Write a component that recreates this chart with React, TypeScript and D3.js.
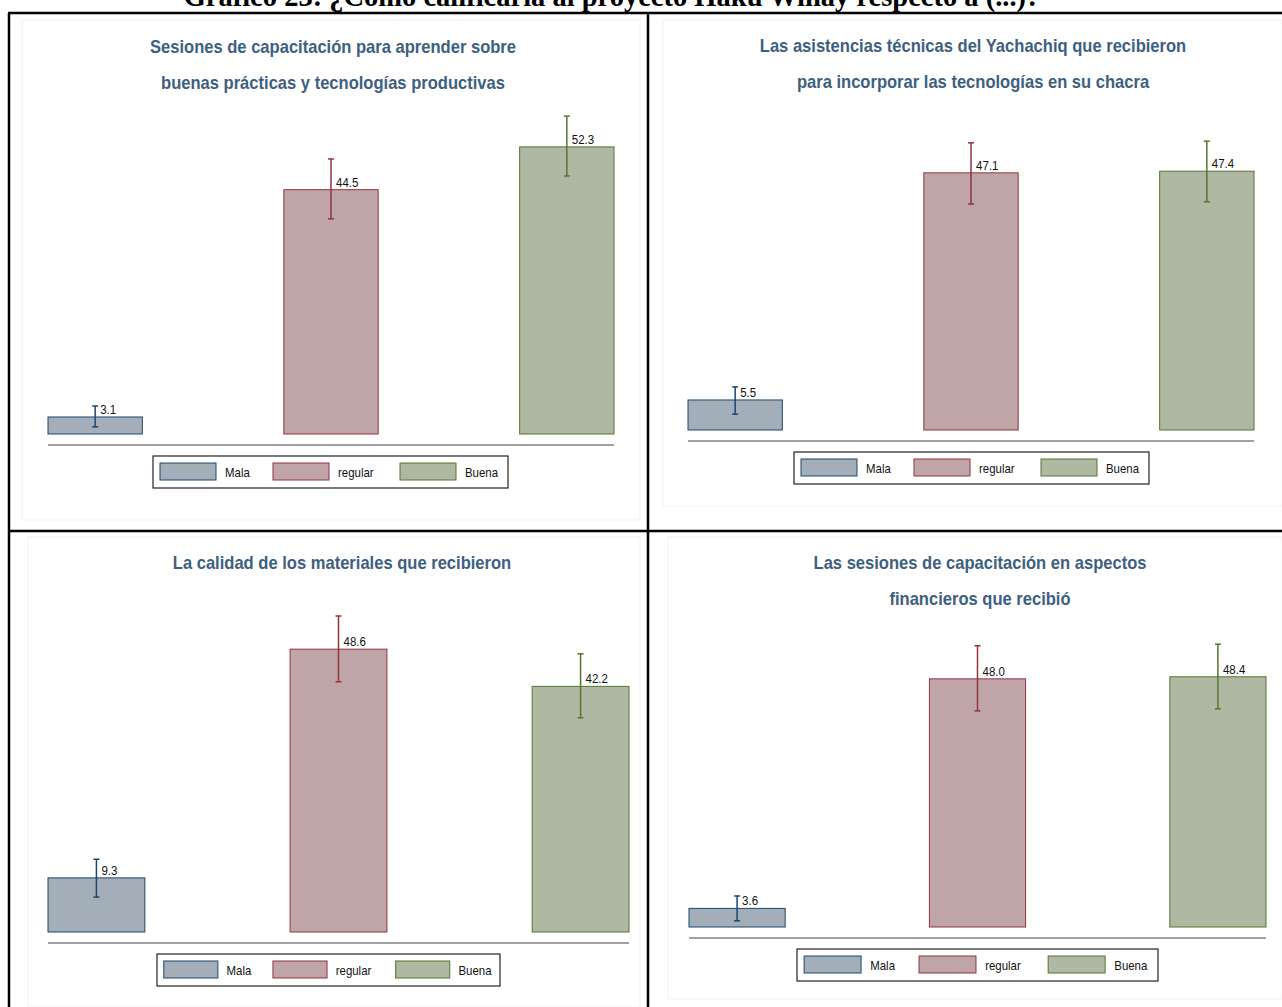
import React, { useEffect, useRef } from "react";
import * as d3 from "d3";

const mainTitle = "Gráfico 23: ¿Cómo calificaría al proyecto Haku Wiñay respecto a (...)?";
const categories = ["Mala", "regular", "Buena"];
const fillColors = ["#a3aeb9", "#c0a5a8", "#afb8a3"];
const strokeColors = ["#1a476f", "#90353b", "#55752f"];

const titles1 = ["Sesiones de capacitación para aprender sobre", "buenas prácticas y tecnologías productivas"];
const titles2 = ["Las asistencias técnicas del Yachachiq que recibieron", "para incorporar las tecnologías en su chacra"];
const titles3 = ["La calidad de los materiales que recibieron"];
const titles4 = ["Las sesiones de capacitación en aspectos", "financieros que recibió"];

const values1 = [3.1, 44.5, 52.3];
const low1 = [1.3, 39.2, 47.0];
const high1 = [5.1, 50.1, 57.9];

const values2 = [5.5, 47.1, 47.4];
const low2 = [2.9, 41.4, 41.8];
const high2 = [7.9, 52.6, 52.9];

const values3 = [9.3, 48.6, 42.2];
const low3 = [6.0, 43.0, 36.8];
const high3 = [12.5, 54.3, 47.8];

const values4 = [3.6, 48.0, 48.4];
const low4 = [1.2, 41.8, 42.2];
const high4 = [6.0, 54.4, 54.7];

const panels = [
  { titles: titles1, values: values1, low: low1, high: high1,
    x0: 48, x1: 614, base: 434, ppu: 5.49, tx: 333, ty: 53, legL: 153, legW: 355,
    bg: [22, 20, 618, 500] },
  { titles: titles2, values: values2, low: low2, high: high2,
    x0: 688, x1: 1254, base: 430, ppu: 5.46, tx: 973, ty: 52, legL: 794, legW: 355,
    bg: [663, 20, 619, 486] },
  { titles: titles3, values: values3, low: low3, high: high3,
    x0: 48, x1: 629, base: 932, ppu: 5.82, tx: 342, ty: 569, legL: 157, legW: 343,
    bg: [28, 537, 612, 470] },
  { titles: titles4, values: values4, low: low4, high: high4,
    x0: 689, x1: 1266, base: 927, ppu: 5.17, tx: 980, ty: 569, legL: 797, legW: 361,
    bg: [668, 537, 614, 462] },
];

const SANS = "'Liberation Sans Narrow', 'Arial Narrow', 'Liberation Sans', Arial, sans-serif";

export default function App() {
  const ref = useRef<SVGSVGElement | null>(null);

  useEffect(() => {
    const svg = d3.select(ref.current);
    svg.selectAll("*").remove();

    svg.append("rect").attr("width", 1282).attr("height", 1007).attr("fill", "#fff");

    // main title (cut at the top edge, as in the reference)
    svg.append("text")
      .attr("x", 612).attr("y", 6)
      .attr("text-anchor", "middle")
      .attr("font-family", "'Liberation Serif', 'Times New Roman', serif")
      .attr("font-weight", "bold")
      .attr("font-size", 28.5)
      .attr("fill", "#000")
      .text(mainTitle);

    const fmt = d3.format(".1f");

    panels.forEach((p) => {
      const g = svg.append("g");
      g.append("rect")
        .attr("x", p.bg[0]).attr("y", p.bg[1]).attr("width", p.bg[2]).attr("height", p.bg[3])
        .attr("fill", "#fff").attr("stroke", "#f0f2f3").attr("stroke-width", 1);

      p.titles.forEach((t, i) => {
        g.append("text")
          .attr("transform", `translate(${p.tx},${p.ty + i * 36}) scale(0.92,1)`)
          .attr("text-anchor", "middle")
          .attr("font-family", SANS)
          .attr("font-weight", "bold")
          .attr("font-size", 18)
          .attr("fill", "#3e6080")
          .text(t);
      });

      const x = d3.scaleBand<string>().domain(categories).range([p.x0, p.x1])
        .paddingInner(0.6).paddingOuter(0);
      const y = d3.scaleLinear().domain([0, 60]).range([p.base, p.base - 60 * p.ppu]);

      categories.forEach((c, i) => {
        const bx = x(c)!;
        const bw = x.bandwidth();
        g.append("rect")
          .attr("x", bx).attr("y", y(p.values[i]))
          .attr("width", bw).attr("height", y(0) - y(p.values[i]))
          .attr("fill", fillColors[i]).attr("stroke", strokeColors[i]).attr("stroke-width", 1);
        const cx = bx + bw / 2;
        g.append("line")
          .attr("x1", cx).attr("x2", cx).attr("y1", y(p.low[i])).attr("y2", y(p.high[i]))
          .attr("stroke", strokeColors[i]).attr("stroke-width", 1.5);
        [p.low[i], p.high[i]].forEach((v) => {
          g.append("line")
            .attr("x1", cx - 3).attr("x2", cx + 3).attr("y1", y(v)).attr("y2", y(v))
            .attr("stroke", strokeColors[i]).attr("stroke-width", 1.5);
        });
        g.append("text")
          .attr("transform", `translate(${cx + 5},${y(p.values[i]) - 3}) scale(0.92,1)`)
          .attr("font-family", SANS)
          .attr("font-size", 12.5)
          .attr("fill", "#111")
          .text(fmt(p.values[i]));
      });

      g.append("line")
        .attr("x1", p.x0).attr("x2", p.x1).attr("y1", p.base + 11).attr("y2", p.base + 11)
        .attr("stroke", "#444").attr("stroke-width", 1.2);

      const ly = p.base + 22;
      const lh = 32;
      g.append("rect")
        .attr("x", p.legL).attr("y", ly).attr("width", p.legW).attr("height", lh)
        .attr("fill", "#fff").attr("stroke", "#222").attr("stroke-width", 1.2);
      const sc = p.legW / 355;
      const swOff = [7, 120, 247];
      categories.forEach((c, i) => {
        const sx = p.legL + swOff[i] * sc;
        g.append("rect")
          .attr("x", sx).attr("y", ly + 7).attr("width", 56 * sc).attr("height", 17)
          .attr("fill", fillColors[i]).attr("stroke", strokeColors[i]).attr("stroke-width", 1);
        g.append("text")
          .attr("transform", `translate(${sx + 65 * sc},${ly + 20.5}) scale(0.88,1)`)
          .attr("font-family", SANS)
          .attr("font-size", 13)
          .attr("fill", "#111")
          .text(c);
      });
    });

    const frame = svg.append("g").attr("stroke", "#000").attr("stroke-width", 2.5);
    frame.append("line").attr("x1", 8).attr("x2", 1282).attr("y1", 13).attr("y2", 13);
    frame.append("line").attr("x1", 9).attr("x2", 9).attr("y1", 13).attr("y2", 1007);
    frame.append("line").attr("x1", 648).attr("x2", 648).attr("y1", 13).attr("y2", 1007);
    frame.append("line").attr("x1", 8).attr("x2", 1282).attr("y1", 531).attr("y2", 531);
  }, []);

  return (
    <svg ref={ref} width={1282} height={1007}
      style={{ position: "absolute", left: 0, top: 0, display: "block" }} />
  );
}
